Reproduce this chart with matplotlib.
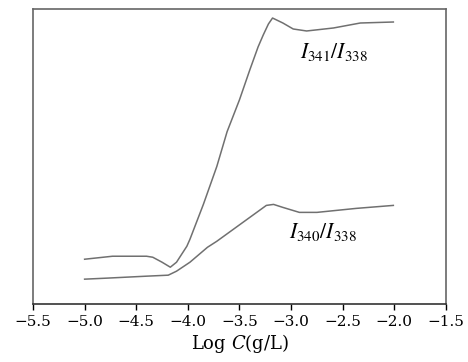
import matplotlib
matplotlib.use('Agg')
import matplotlib.pyplot as plt

plt.rcParams['font.family'] = ['DejaVu Serif']
plt.rcParams['mathtext.fontset'] = 'stix'

# I341/I338 curve (arbitrary units)
logc_341 = [-5.0, -4.73, -4.40, -4.34, -4.25, -4.17, -4.11, -4.01, -3.98, -3.85,
            -3.72, -3.62, -3.50, -3.40, -3.32, -3.27, -3.22, -3.18, -3.08,
            -2.98, -2.85, -2.59, -2.33, -2.01]
ratio_341 = [45, 48, 48, 47, 42, 37, 42, 58, 65, 100,
             138, 173, 205, 235, 258, 270, 281, 287, 282,
             276, 274, 277, 282, 283]

# I340/I338 curve (arbitrary units)
logc_340 = [-5.0, -4.79, -4.40, -4.19, -4.11, -3.98, -3.81, -3.72, -3.40, -3.24,
            -3.17, -3.08, -2.92, -2.75, -2.37, -2.01]
ratio_340 = [25, 26, 28, 29, 33, 42, 57, 63, 87, 99,
             100, 97, 92, 92, 96, 99]

xticks = [-5.5, -5.0, -4.5, -4.0, -3.5, -3.0, -2.5, -2.0, -1.5]

fig = plt.figure(figsize=(4.68, 3.62), dpi=100)
ax = fig.add_axes([0.0705, 0.160, 0.8825, 0.815])

ax.plot(logc_341, ratio_341, color='#707070', lw=1.1, solid_joinstyle='round')
ax.plot(logc_340, ratio_340, color='#707070', lw=1.1, solid_joinstyle='round')

ax.text(-2.59, 253, r'$I_{341}/I_{338}$', fontsize=15.5, ha='center', va='center')
ax.text(-2.69, 72, r'$I_{340}/I_{338}$', fontsize=15.5, ha='center', va='center')

ax.set_xlim(-5.5, -1.5)
ax.set_ylim(0, 296)
ax.set_xticks(xticks)
ax.set_xticklabels([('%.1f' % t).replace('-', '\u2212') for t in xticks])
ax.set_yticks([])
ax.tick_params(axis='x', direction='out', length=4, width=1, labelsize=11, pad=4)
ax.set_xlabel(r'Log $C$(g/L)', fontsize=13, labelpad=2, math_fontfamily='dejavuserif')

for side in ['left', 'top', 'right']:
    ax.spines[side].set_color('#666666')
    ax.spines[side].set_linewidth(1.2)
ax.spines['bottom'].set_color('#333333')
ax.spines['bottom'].set_linewidth(1.2)

plt.savefig('out.png', dpi=100)
